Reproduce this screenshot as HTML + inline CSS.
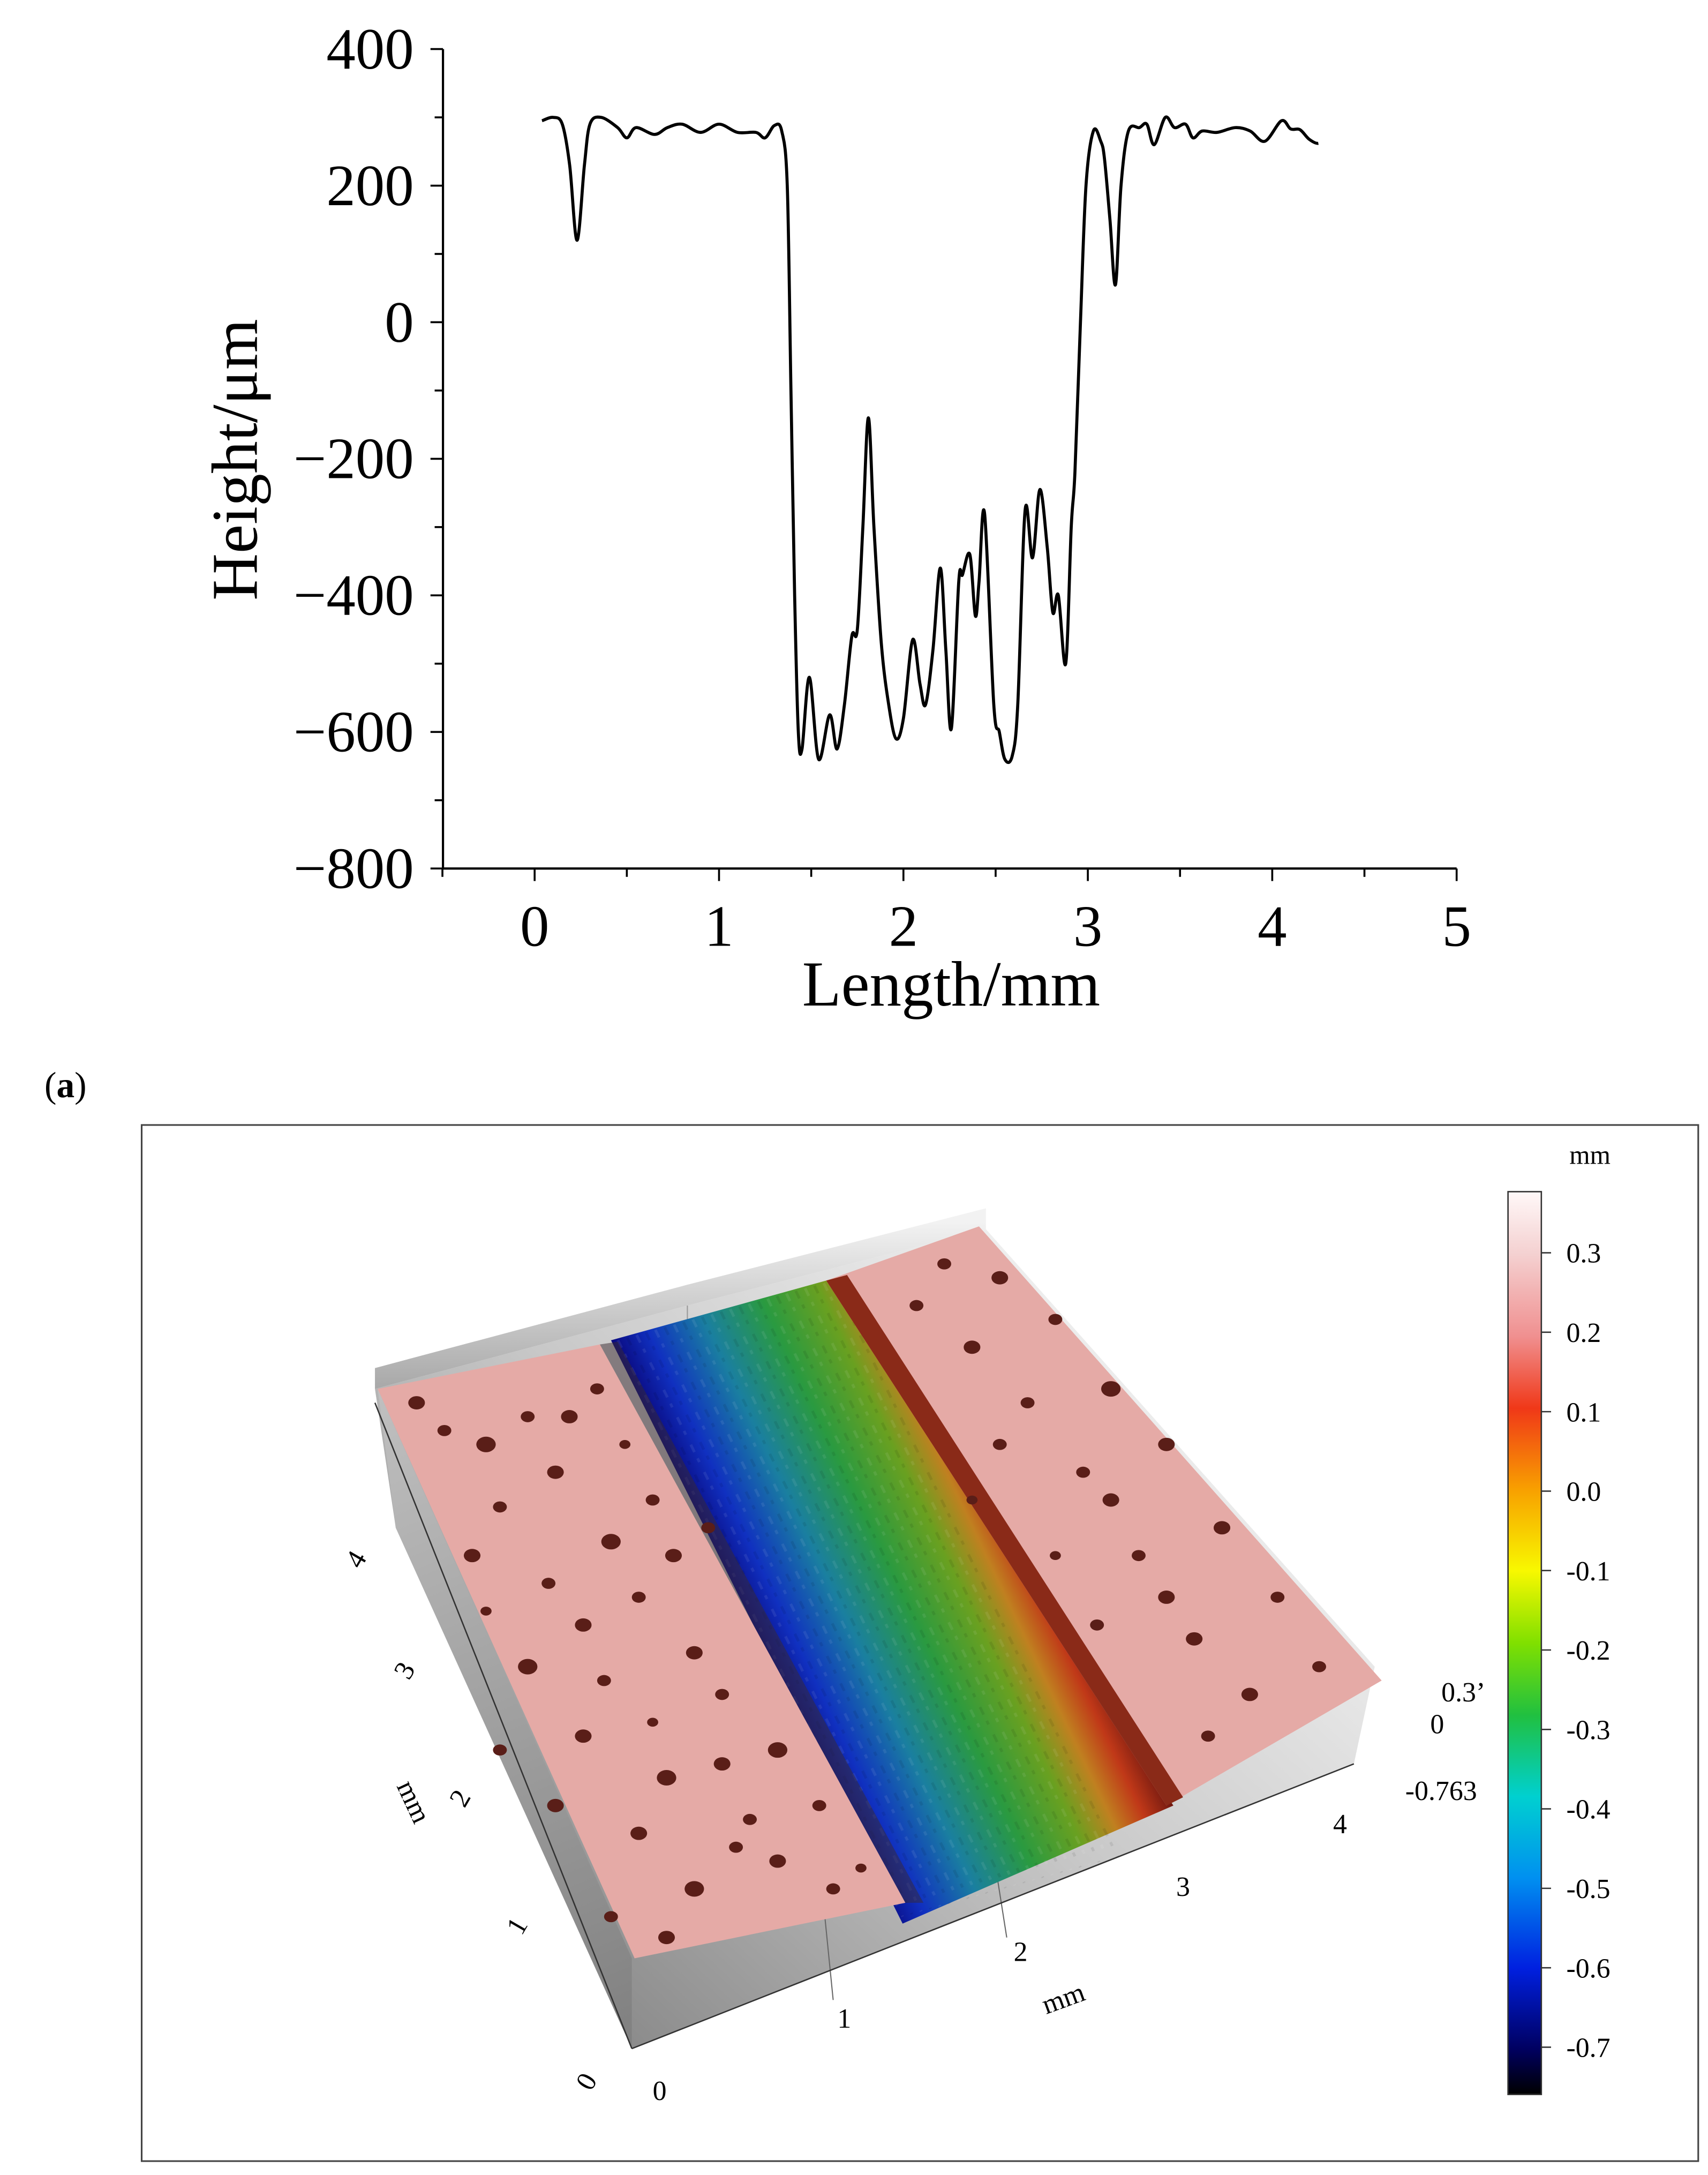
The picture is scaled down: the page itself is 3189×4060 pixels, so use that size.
<!DOCTYPE html>
<html><head><meta charset="utf-8"><style>
html,body{margin:0;padding:0;background:#fff;}
svg{display:block;}
text{font-family:"Liberation Serif",serif;}
</style></head><body>
<svg id="root" width="3189" height="4060" viewBox="0 0 1230 1566" xmlns="http://www.w3.org/2000/svg">
<defs>
<linearGradient id="trenchGrad" gradientUnits="userSpaceOnUse" x1="545" y1="1185" x2="745" y2="1090">
<stop offset="0" stop-color="#0a0a80"/><stop offset="0.12" stop-color="#1030c0"/><stop offset="0.3" stop-color="#1a7fa0"/>
<stop offset="0.5" stop-color="#2a9a40"/><stop offset="0.68" stop-color="#6aa020"/><stop offset="0.8" stop-color="#c08020"/>
<stop offset="0.9" stop-color="#c03818"/><stop offset="1" stop-color="#701810"/></linearGradient>
<linearGradient id="floorGrad" gradientUnits="userSpaceOnUse" x1="450" y1="1480" x2="900" y2="1000">
<stop offset="0" stop-color="#8a8a8a"/><stop offset="0.5" stop-color="#c8c8c8"/><stop offset="1" stop-color="#f4f4f4"/></linearGradient>
<linearGradient id="backGrad" gradientUnits="userSpaceOnUse" x1="0" y1="880" x2="0" y2="1000">
<stop offset="0" stop-color="#f2f2f2"/><stop offset="1" stop-color="#a8a8a8"/></linearGradient>
<linearGradient id="wallGrad" gradientUnits="userSpaceOnUse" x1="270" y1="1000" x2="460" y2="1470">
<stop offset="0" stop-color="#c0c0c0"/><stop offset="1" stop-color="#808080"/></linearGradient>
<linearGradient id="cbarGrad" x1="0" y1="0" x2="0" y2="1">
<stop offset="0" stop-color="#fff8f8"/><stop offset="0.07" stop-color="#f4d0d0"/><stop offset="0.16" stop-color="#f09090"/>
<stop offset="0.24" stop-color="#f03818"/><stop offset="0.33" stop-color="#f8a000"/><stop offset="0.42" stop-color="#f8f800"/>
<stop offset="0.5" stop-color="#80e000"/><stop offset="0.58" stop-color="#20c040"/><stop offset="0.67" stop-color="#00d0d0"/>
<stop offset="0.76" stop-color="#0090f0"/><stop offset="0.86" stop-color="#0020e0"/><stop offset="0.95" stop-color="#000060"/>
<stop offset="1" stop-color="#000000"/></linearGradient>
</defs>
<g id="chartA"></g>
<text x="32" y="790" font-size="26">(<tspan font-weight="bold">a</tspan>)</text>
<g id="panelB">
<rect x="102" y="810" width="1121" height="746" fill="#fff" stroke="#444" stroke-width="1.2"/>
<polygon points="270,1000 495,940 710,885 990,1200 975,1270 455,1475 285,1100" fill="url(#floorGrad)"/>
<polygon points="270,1000 495,940 710,885 710,870 495,925 270,985" fill="url(#backGrad)"/>
<polygon points="272,1000 455,1410 455,1475 285,1100" fill="url(#wallGrad)"/>
<line x1="495" y1="940" x2="495" y2="1010" stroke="#999" stroke-width="0.8"/>
<line x1="600" y1="1440" x2="590" y2="1340" stroke="#666" stroke-width="0.8"/>
<line x1="725" y1="1395" x2="710" y2="1300" stroke="#666" stroke-width="0.8"/>
<polygon points="440,965 595,922 845,1300 650,1385" fill="url(#trenchGrad)"/>
<g id="trenchTex"></g>
<polygon points="272,1000 432,968 652,1370 457,1410" fill="#e5aaa6"/>
<polygon points="595,922 705,883 995,1210 840,1300" fill="#e5aaa6"/>
<polygon points="595,922 610,918 852,1294 840,1300" fill="#8a2a18"/>
<polygon points="432,968 445,966 665,1370 652,1370" fill="#3a2a30" opacity="0.5"/>
<g id="pits"></g>
<g id="axes3d"></g>
<rect x="1086" y="858" width="24" height="650" fill="url(#cbarGrad)" stroke="#333" stroke-width="1"/>
<text x="1145" y="838" font-size="19" text-anchor="middle">mm</text>
<g id="cbar"></g>
</g>
</svg>
<script>
const NS='http://www.w3.org/2000/svg';
const profileX=[0.04,0.1,0.15,0.19,0.23,0.27,0.3,0.36,0.45,0.5,0.55,0.65,0.72,0.8,0.9,1.0,1.1,1.2,1.25,1.3,1.34,1.37,1.39,1.41,1.43,1.45,1.49,1.54,1.6,1.64,1.68,1.72,1.75,1.78,1.81,1.84,1.88,1.92,1.96,2.0,2.05,2.09,2.12,2.16,2.2,2.23,2.26,2.3,2.32,2.36,2.39,2.41,2.44,2.49,2.52,2.55,2.59,2.62,2.66,2.7,2.74,2.78,2.81,2.84,2.88,2.91,2.93,2.96,2.99,3.03,3.07,3.09,3.12,3.15,3.18,3.22,3.28,3.32,3.36,3.42,3.47,3.53,3.57,3.62,3.7,3.8,3.88,3.96,4.05,4.1,4.15,4.2,4.25,4.28,4.31];
const profileY=[295,300,290,230,120,230,290,300,285,270,285,275,285,290,278,290,278,278,270,288,280,200,-100,-400,-600,-625,-520,-640,-575,-625,-560,-460,-450,-300,-140,-300,-470,-560,-610,-580,-465,-530,-560,-480,-360,-480,-595,-380,-370,-340,-430,-380,-280,-560,-600,-640,-635,-560,-275,-345,-245,-330,-425,-400,-500,-300,-220,0,200,280,265,240,150,55,200,280,285,290,260,300,285,290,270,280,278,285,280,265,295,283,282,268,262,272];
const xTicks=[0,1,2,3,4,5];
const yTicks=[400,200,0,-200,-400,-600,-800];
const cbarTicks=['0.3','0.2','0.1','0.0','-0.1','-0.2','-0.3','-0.4','-0.5','-0.6','-0.7'];
const cbarVals=[0.3,0.2,0.1,0.0,-0.1,-0.2,-0.3,-0.4,-0.5,-0.6,-0.7];
const sx=v=>385+132.8*v;
const sy=v=>232-0.49167*v;
const cy=v=>902-(v-0.3)*572;
function mk(tag,attrs,parent,txt){const e=document.createElementNS(NS,tag);for(const k in attrs)e.setAttribute(k,attrs[k]);if(txt!==undefined)e.textContent=txt;parent.appendChild(e);return e;}
const A=document.getElementById('chartA');
let e;
e=mk('line',{x1:319,y1:sy(-800),x2:sx(5),y2:sy(-800),stroke:'#000','stroke-width':1.6},A);


e=mk('line',{x1:319,y1:sy(400),x2:319,y2:sy(-800),stroke:'#000','stroke-width':1.6},A);


for(let m=-0.5;m<=5.001;m+=0.5){const major=Math.abs(m-Math.round(m))<1e-6;
 e=mk('line',{x1:sx(m),y1:sy(-800),x2:sx(m),y2:sy(-800)+(major?9:6),stroke:'#000','stroke-width':1.4},A);
 
 }
xTicks.forEach(t=>{e=mk('text',{x:sx(t),y:681,'font-size':42,'text-anchor':'middle'},A,String(t));
 
 });
for(let v=-800;v<=400;v+=100){const major=v%200===0;
 e=mk('line',{x1:319,y1:sy(v),x2:319-(major?9:6),y2:sy(v),stroke:'#000','stroke-width':1.4},A);
 
 }
yTicks.forEach(t=>{e=mk('text',{x:298,y:sy(t)+14,'font-size':42,'text-anchor':'end'},A,t<0?'\u2212'+(-t):String(t));
 
 });
e=mk('text',{x:685,y:724,'font-size':46,'text-anchor':'middle'},A,'Length/mm');


e=mk('text',{x:0,y:0,'font-size':47,'text-anchor':'middle',transform:'translate(185,331) rotate(-90)'},A,'Height/\u03bcm');


const pts=profileX.map((x,i)=>[sx(x),sy(profileY[i])]);
let d='M'+pts[0][0]+','+pts[0][1];
for(let i=0;i<pts.length-1;i++){const p0=pts[Math.max(0,i-1)],p1=pts[i],p2=pts[i+1],p3=pts[Math.min(pts.length-1,i+2)];
 const c1=[p1[0]+(p2[0]-p0[0])/6,p1[1]+(p2[1]-p0[1])/6],c2=[p2[0]-(p3[0]-p1[0])/6,p2[1]-(p3[1]-p1[1])/6];
 d+=' C'+c1[0]+','+c1[1]+' '+c2[0]+','+c2[1]+' '+p2[0]+','+p2[1];}
e=mk('path',{d:d,fill:'none',stroke:'#000','stroke-width':2.2,'stroke-linejoin':'round'},A);


const T=document.getElementById('trenchTex');
for(let k=0;k<24;k++){const t=k/23;const ax=445+t*155,ay=965-t*43;
 e=mk('line',{x1:ax,y1:ay,x2:ax+205,y2:ay+415,stroke:(k%2?'#000':'#fff'),'stroke-opacity':0.08,'stroke-width':2,'stroke-dasharray':'6 5 3 8'},T);
 
 }
const P=document.getElementById('pits');
const pits=[[300,1010,6],[350,1040,7],[380,1020,5],[400,1060,6],[430,1000,5],[340,1120,6],[360,1085,5],[440,1110,7],[470,1080,5],[380,1200,7],[420,1170,6],[460,1150,5],[500,1190,6],[520,1220,5],[420,1250,6],[480,1280,7],[520,1270,6],[460,1320,6],[540,1310,5],[500,1360,7],[560,1340,6],[600,1360,5],[440,1380,5],[360,1260,5],[400,1300,6],[680,910,5],[720,920,6],[760,950,5],[700,970,6],[800,1000,7],[740,1010,5],[840,1040,6],[780,1060,5],[880,1100,6],[820,1120,5],[860,1180,6],[920,1150,5],[900,1220,6],[950,1200,5],[870,1250,5],[700,1080,4],[760,1120,4],
[320,1030,5],[410,1020,6],[450,1040,4],[395,1140,5],[485,1120,6],[510,1100,5],[350,1160,4],[435,1210,5],[560,1260,7],[590,1300,5],[470,1240,4],[530,1330,5],[620,1345,4],[480,1395,6],[660,940,5],[720,1040,5],[800,1080,6],[840,1150,6],[790,1170,5]];
pits.forEach(p=>{e=mk('ellipse',{cx:p[0],cy:p[1],rx:p[2],ry:p[2]*0.8,fill:'#5a1e18'},P);
 
 });
const X3=document.getElementById('axes3d');
const l3=[['0',475,1512,0],['1',608,1460,0],['2',735,1412,0],['3',852,1365,0],['4',965,1320,0],['0',428,1502,-60],['1',378,1390,-60],['2',337,1298,-60],['3',297,1206,-60],['4',262,1126,-60]];
l3.forEach(l=>{e=mk('text',{x:l[1],y:l[2],'font-size':20,'text-anchor':'middle',transform:'rotate('+l[3]+' '+l[1]+' '+l[2]+')'},X3,l[0]);
 
 });
e=mk('text',{x:768,y:1445,'font-size':20,'text-anchor':'middle',transform:'rotate(-20 768 1445)'},X3,'mm');


e=mk('text',{x:292,y:1300,'font-size':20,'text-anchor':'middle',transform:'rotate(65 292 1300)'},X3,'mm');


[['0.3\u2019',1038,1225],['0',1030,1248],['-0.763',1012,1296]].forEach(l=>{e=mk('text',{x:l[1],y:l[2],'font-size':20},X3,l[0]);
 
 });
e=mk('polyline',{points:'455,1475 975,1270',fill:'none',stroke:'#333','stroke-width':1},X3);


e=mk('polyline',{points:'455,1475 270,1010',fill:'none',stroke:'#333','stroke-width':1},X3);


const C=document.getElementById('cbar');
cbarVals.forEach((v,i)=>{
 e=mk('line',{x1:1110,y1:cy(v),x2:1117,y2:cy(v),stroke:'#333','stroke-width':1},C);
 
 
 e=mk('text',{x:1128,y:cy(v)+7,'font-size':20},C,cbarTicks[i]);
 
 });
</script>
</body></html>
